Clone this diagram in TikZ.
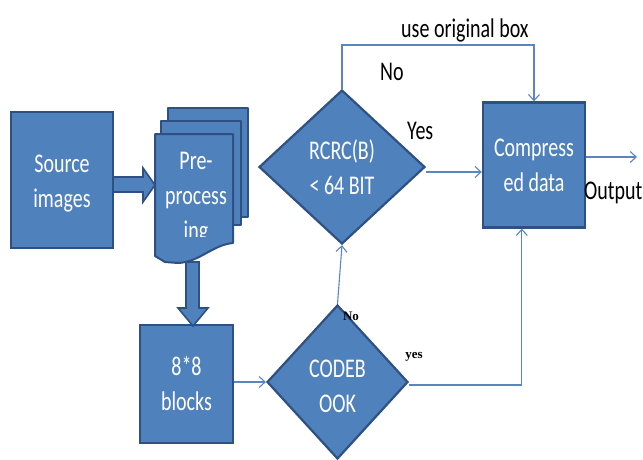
\documentclass[tikz,border=0pt]{standalone}
\usepackage{fontspec}
\usepackage{graphicx}
\setmainfont{Carlito}
\newfontfamily\labelserif{Liberation Serif}
\usetikzlibrary{shapes.geometric,arrows.meta,calc}

\definecolor{boxfill}{HTML}{4F81BD}
\definecolor{boxedge}{HTML}{2F5082}
\definecolor{linkblue}{HTML}{5A86C0}

% narrow, tall lettering
\newcommand\tl[1]{\scalebox{1}[1.35]{#1}}
% the same, set a little lower without changing the line's size
\newcommand\tld[1]{\raisebox{-4pt}[\height][\depth]{\scalebox{1}[1.35]{#1}}}

\tikzset{
  x=1pt, y=-1pt,
  every node/.style={font=\fontsize{20}{35}\selectfont},
  procbox/.style={draw=boxedge, line width=2.4pt, fill=boxfill, text=white,
    align=center, inner sep=0pt},
  decision/.style={diamond, draw=boxedge, line width=2.2pt, fill=boxfill,
    text=white, align=center, inner sep=0pt},
  link/.style={draw=linkblue, line width=1.1pt},
  linkarrow/.style={link, -{Straight Barb[length=6pt,width=11pt,line width=1.1pt]}},
  fatarrow/.style={draw=boxedge, line width=1.6pt, fill=boxfill, line join=miter},
  doc/.style={draw=boxedge, line width=2pt, fill=boxfill, line join=round},
  blacklabel/.style={text=black, inner sep=0pt},
  smalllabel/.style={text=black, inner sep=0pt,
    font=\labelserif\bfseries\fontsize{13}{15}\selectfont},
}

\begin{document}
\begin{tikzpicture}
\useasboundingbox (0,0) rectangle (643,459);

% process boxes
\node[procbox, minimum width=102pt, minimum height=136pt] (src) at (62,180) {\tld{Source}\\\tld{images}};
\node[procbox, minimum width=93pt, minimum height=118pt] (blk) at (186.5,384) {\tl{8*8}\\\tl{blocks}};
\node[procbox, minimum width=102pt, minimum height=125pt] (comp) at (534,165) {\tl{Compress}\\\tl{ed data}};

% decisions
\node[decision, minimum width=166pt, minimum height=154pt] (rc) at (342,167) {\tl{RCRC(B)}\\\tl{< 64 BIT}};
\node[decision, minimum width=141pt, minimum height=154pt] (cb) at (337.5,382) {\tld{CODEB}\\\tld{OOK}};

% stacked documents of the pre-processing step
\draw[doc] (168,108) rectangle (248,217);
\draw[doc] (161,121) rectangle (241,225);
\draw[doc] (155,134) -- (233,134) -- (233,243)
  .. controls (212,245) and (200,262) .. (178,263) -- (165,262) -- (155,256) -- cycle;
\begin{scope}
  \clip (150,100) rectangle (240,236);
  \node[text=white, align=center, inner sep=0pt] (pretext) at (196,198) {\tl{Pre-}\\\tl{process}\\\tl{ing}};
\end{scope}

% block arrows
\draw[fatarrow] (113,177) -- (143,177) -- (143,168) -- (155,185) -- (143,202)
  -- (143,192) -- (113,192) -- cycle;
\draw[fatarrow] (186,262) -- (199,262) -- (199,308) -- (208,308) -- (193,326)
  -- (178,308) -- (186,308) -- cycle;

% connectors
\draw[linkarrow] (blk.east |- cb.west) -- (cb.west);
\draw[linkarrow] (cb.north) -- (rc.south);
\draw[linkarrow] ($(cb.east)+(0,3)$) -| ($(comp.south west)+(40,0)$);
\draw[linkarrow] ($(rc.east)+(0,5)$) -- ($(comp.west)+(0,7)$);
\coordinate (loopR) at (534,45);
\draw[linkarrow] (rc.north) |- (loopR) -- (comp.north);
\coordinate (out) at (637,157);
\draw[linkarrow] (comp.east |- out) -- (out);

% labels
\node[blacklabel, anchor=base west] (lblorig) at (401,37) {\tl{use original box}};
\node[blacklabel, anchor=base west] (lblno) at (380,80) {\tl{No}};
\node[blacklabel, anchor=base west] (lblyes) at (407,139) {\tl{Yes}};
\node[blacklabel, anchor=base west] (lblout) at (584,199) {\tl{Output}};
\node[smalllabel] (lblno2) at (351,316) {No};
\node[smalllabel] (lblyes2) at (414,357) {yes};
\end{tikzpicture}
\end{document}
